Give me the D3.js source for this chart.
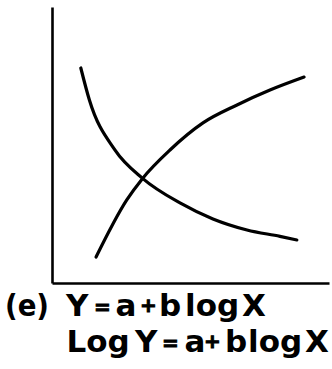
<!DOCTYPE html>
<html>
<head>
<meta charset="utf-8">
<script src="https://cdn.jsdelivr.net/npm/d3@7"></script>
<style>
  html, body { margin: 0; padding: 0; background: #fff; }
  svg { display: block; }
</style>
</head>
<body>
<svg id="chart" width="332" height="369"></svg>
<script>
// Increasing curve: Y = a + b log X
const risingX = [15.9, 27.0, 32.7, 42.6, 54.5, 66.8, 78.7, 91.0];
const risingY = [9.4, 30.1, 37.9, 48.2, 58.0, 64.5, 69.9, 74.6];
// Decreasing curve: Log Y = a + b log X
const fallingX = [10.4, 13.5, 22.7, 32.7, 46.2, 58.1, 70.4, 82.3, 88.4];
const fallingY = [77.9, 66.3, 48.2, 37.9, 29.0, 23.2, 19.2, 16.9, 15.6];
// Caption: panel label and the two equations, split into tokens
const panelLabel = "(e)";
const equation1 = ["Y", "=", "a", "+", "b", "log", "X"];
const equation2 = ["Log", "Y", "=", "a", "+", "b", "log", "X"];

const svg = d3.select("#chart");
const x = d3.scaleLinear().domain([0, 100]).range([52, 329]);
const y = d3.scaleLinear().domain([0, 100]).range([283, 7]);

// Axes drawn as plain lines without ticks
const xAxis = d3.axisBottom(x).tickValues([]).tickSizeOuter(0);
const yAxis = d3.axisLeft(y).tickValues([]).tickSizeOuter(0);
svg.append("g").attr("transform", `translate(0,${y(0)})`).call(xAxis)
  .select(".domain").attr("stroke", "#000").attr("stroke-width", 2.6);
svg.append("g").attr("transform", `translate(${x(0)},0)`).call(yAxis)
  .select(".domain").attr("stroke", "#000").attr("stroke-width", 2.6);

const line = d3.line()
  .x(d => x(d[0]))
  .y(d => y(d[1]))
  .curve(d3.curveMonotoneX);

[[risingX, risingY], [fallingX, fallingY]].forEach(([xs, ys]) => {
  svg.append("path")
    .datum(xs.map((v, i) => [v, ys[i]]))
    .attr("d", line)
    .attr("fill", "none")
    .attr("stroke", "#000")
    .attr("stroke-width", 3.2)
    .attr("stroke-linecap", "round");
});

const font = "'DejaVu Sans', sans-serif";

svg.append("text")
  .attr("x", 5).attr("y", 316)
  .attr("font-family", font).attr("font-weight", "bold").attr("font-size", 31)
  .attr("textLength", 44).attr("lengthAdjust", "spacingAndGlyphs")
  .text(panelLabel);

// Each equation is one text; operators are set smaller and raised a little
const isOperator = t => t === "=" || t === "+";
function equationLine(tokens, lefts, baseline) {
  const txt = svg.append("text")
    .attr("font-family", font).attr("font-weight", "bold").attr("font-size", 31);
  tokens.forEach((t, i) => {
    const span = txt.append("tspan")
      .attr("x", lefts[i])
      .attr("y", baseline - (t === "+" ? 4 : t === "=" ? 2 : 0))
      .text(t);
    if (isOperator(t)) {
      span.attr("font-size", 20).attr("stroke", "#000").attr("stroke-width", 1);
    }
  });
}

equationLine(equation1, [66, 94, 115.5, 140, 159, 185, 242], 316);
equationLine(equation2, [66.5, 135, 162, 184.5, 204, 225, 248, 305], 352);
</script>
</body>
</html>
